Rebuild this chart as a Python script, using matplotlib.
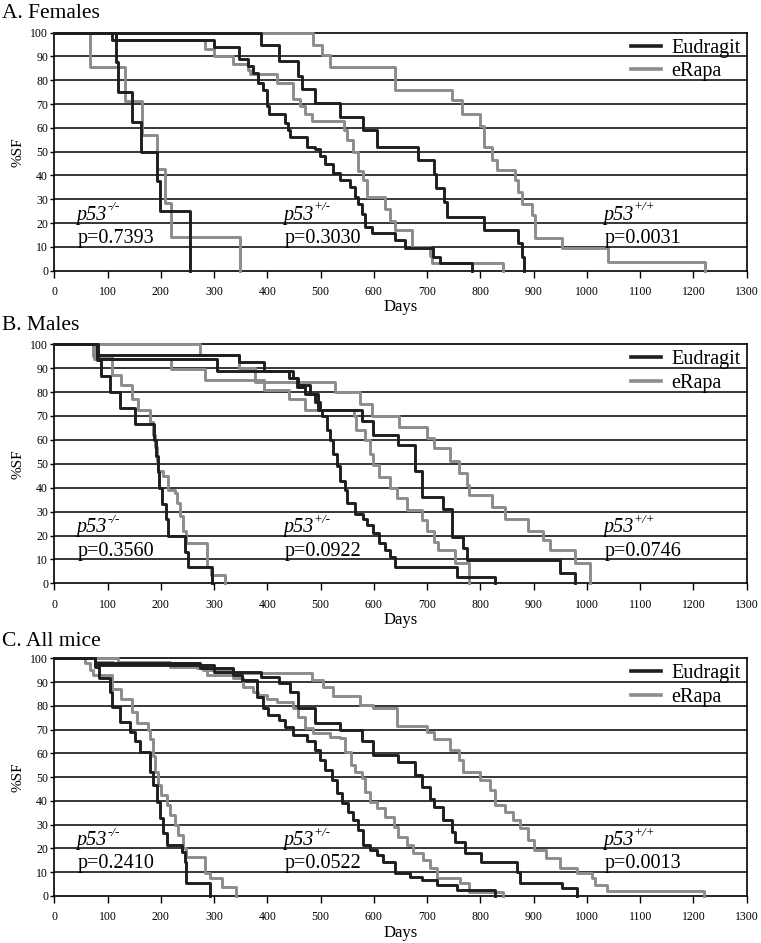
import matplotlib
matplotlib.use("Agg")
import matplotlib.pyplot as plt
from matplotlib.lines import Line2D

plt.rcParams["font.family"] = "Liberation Serif"

# survival curves as (day, %SF) step points
# --- A. Females
fem_ko_eud = [(0, 100), (115, 87.5), (119, 75), (145, 62.5), (163, 50), (192, 37.5),
              (198, 25), (255, 0)]
fem_ko_rap = [(0, 100), (67, 85.7), (133, 71.4), (164, 57.1), (192, 42.9), (208, 28.6),
              (220, 14.3), (349, 0)]
fem_het_eud = [(0, 100), (108, 97), (299, 94), (346, 89), (364, 86), (373, 83), (383, 79),
               (392, 76), (399, 69), (404, 66), (433, 62), (438, 59), (443, 56), (474, 52),
               (490, 51), (499, 48), (508, 45), (524, 41), (537, 38), (555, 35), (565, 31),
               (570, 28), (578, 24), (584, 18.5), (596, 15.8), (640, 12.9), (659, 9.5),
               (711, 5.9), (724, 3.2), (784, 0)]
fem_het_rap = [(0, 100), (115, 97), (283, 93), (299, 90), (336, 87), (364, 84.5),
               (368, 82.5), (418, 79), (449, 72), (461, 69), (471, 66), (483, 63),
               (543, 59), (549, 55), (561, 50), (571, 42), (580, 38), (587, 31), (621, 26),
               (631, 21), (640, 17), (671, 10), (705, 6), (710, 3.4), (843, 0)]
fem_wt_eud = [(0, 100), (389, 94.8), (421, 88), (458, 82), (465, 76.5), (490, 70.5),
              (537, 64.7), (580, 59), (605, 52), (683, 46.5), (712, 40.6), (716, 34.7),
              (731, 29), (737, 22.7), (806, 17), (871, 11.6), (878, 5.9), (881, 0)]
fem_wt_rap = [(0, 100), (486, 95), (502, 90.5), (518, 85.5), (640, 76), (746, 71.7),
              (765, 66), (800, 61), (806, 52), (821, 46.5), (831, 42.3), (865, 38),
              (871, 33), (878, 28), (897, 23.4), (903, 13.6), (953, 9.4), (1040, 3.8),
              (1222, 0)]

# --- B. Males
mal_ko_eud = [(0, 100), (80, 93.3), (88, 86.7), (105, 80), (124, 73.3), (152, 66.7),
              (188, 60), (191, 53.3), (194, 46.7), (197, 40), (203, 33.3), (210, 26.7),
              (213, 20), (245, 13.3), (251, 6.7), (296, 0)]
mal_ko_rap = [(0, 100), (73, 95), (108, 87), (126, 83), (145, 77), (158, 72.5),
              (180, 67.6), (186, 62), (189, 57), (192, 51), (195, 47), (205, 45), (214, 39),
              (227, 37.6), (230, 33.5), (236, 28), (242, 22), (248, 16.7), (286, 7),
              (295, 3.5), (320, 0)]
mal_het_eud = [(0, 100), (82, 93.7), (305, 89), (440, 86), (455, 82), (470, 79), (490, 76),
               (499, 72.5), (502, 70), (512, 64), (518, 60), (524, 54), (530, 49),
               (537, 43), (546, 39), (549, 33.5), (565, 29), (580, 27), (587, 24.4),
               (599, 21), (609, 16.7), (621, 14), (630, 11), (640, 7), (756, 2.8), (828, 0)]
mal_het_rap = [(0, 100), (75, 94), (220, 89.5), (283, 85), (393, 81), (440, 77),
               (471, 72.5), (562, 70), (566, 64), (583, 60), (593, 54), (599, 49.5),
               (609, 44.6), (630, 40), (643, 35.6), (662, 30.7), (690, 26.5), (699, 22),
               (712, 17.4), (720, 14), (752, 8.4), (778, 0)]
mal_wt_eud = [(0, 100), (80, 95.5), (346, 92.7), (393, 89), (449, 86), (458, 83),
              (480, 79), (496, 72.5), (577, 68), (599, 62), (646, 58), (677, 47), (690, 36),
              (730, 31), (746, 19.5), (768, 14.6), (775, 9.7), (950, 4.2), (978, 0)]
mal_wt_rap = [(0, 100), (273, 95.5), (346, 90), (377, 84.4), (527, 80), (574, 75),
              (596, 70), (648, 65.5), (699, 60.7), (712, 56.5), (743, 51), (759, 46),
              (774, 41), (778, 37), (821, 32), (846, 27), (890, 22), (918, 18), (931, 14),
              (978, 8.4), (1006, 0)]

# --- C. All mice
all_ko_eud = [(0, 100), (76, 96.5), (83, 91.6), (105, 86), (108, 79.7), (123, 73),
              (142, 69), (152, 65), (161, 60.7), (180, 52), (186, 46.7), (192, 39.7),
              (198, 32.7), (205, 26.4), (211, 21.5), (239, 18.7), (245, 14.4), (248, 5.3),
              (292, 0)]
all_ko_rap = [(0, 100), (58, 97.9), (67, 95), (73, 93), (108, 87), (126, 83), (145, 77.6),
              (155, 72.6), (176, 69.8), (180, 66), (186, 59), (189, 52), (195, 46.7),
              (201, 42.5), (211, 38.3), (217, 34), (226, 30), (233, 25.7), (242, 20),
              (248, 16.5), (283, 9.5), (292, 7.4), (314, 3.9), (342, 0)]
all_het_eud = [(0, 100), (76, 97.9), (274, 95.8), (336, 93), (352, 90.9), (380, 83.9),
               (392, 79), (402, 76), (421, 74), (433, 71), (449, 67.7), (474, 65),
               (490, 61.4), (499, 57.2), (508, 53), (521, 48.8), (530, 43.2), (540, 39),
               (552, 35.5), (561, 32), (571, 27.8), (580, 21.5), (593, 19.4), (605, 17.3),
               (618, 14.4), (640, 9.5), (668, 8.1), (690, 6.7), (718, 4.6), (756, 2.5),
               (828, 0)]
all_het_rap = [(0, 100), (76, 98.6), (111, 97.9), (267, 95.8), (286, 93), (336, 91.6),
               (355, 88), (374, 86), (383, 84.6), (399, 83), (418, 81.8), (449, 79),
               (458, 75.5), (471, 70.5), (486, 68.4), (518, 67), (537, 66.3), (546, 60.7),
               (558, 55), (565, 52.3), (577, 49.5), (584, 43.9), (593, 39.7), (605, 36.9),
               (621, 33.4), (637, 29), (646, 25), (662, 21.5), (674, 18), (693, 15),
               (706, 11.6), (718, 7.4), (762, 5.3), (778, 1.8), (843, 0)]
all_wt_eud = [(0, 100), (76, 97.2), (299, 94.4), (389, 92.3), (421, 89.5), (443, 86),
              (458, 79), (490, 72.6), (537, 69.8), (577, 65), (599, 59.3), (646, 56.5),
              (677, 50.9), (690, 46), (705, 41), (712, 37.6), (730, 32), (746, 27),
              (752, 22.9), (771, 18), (802, 14.4), (868, 10.2), (874, 5.3), (953, 3.2),
              (981, 0)]
all_wt_rap = [(0, 100), (120, 98.6), (217, 96.5), (280, 95), (336, 93.7), (483, 91),
              (505, 88), (524, 84), (574, 80.4), (599, 79), (643, 71.5), (699, 69),
              (712, 66), (743, 61.4), (759, 57.2), (768, 52), (799, 48.8), (818, 44.6),
              (828, 38.3), (846, 35.5), (862, 32), (874, 28.5), (890, 23.6), (900, 19.4),
              (924, 15.8), (950, 11.6), (981, 9.5), (1009, 7.4), (1015, 4.6), (1037, 2.2),
              (1219, 0)]

panel_titles = ["A. Females", "B. Males", "C. All mice"]
genotypes = ["-/-", "+/-", "+/+"]
pvals_fem = ["0.7393", "0.3030", "0.0031"]
pvals_mal = ["0.3560", "0.0922", "0.0746"]
pvals_all = ["0.2410", "0.0522", "0.0013"]
label_days = [42, 430, 1031]

BLACK = "#1e1e1e"
GRAY = "#8c8c8c"

panels = [
    (panel_titles[0], [fem_ko_eud, fem_het_eud, fem_wt_eud],
     [fem_ko_rap, fem_het_rap, fem_wt_rap], pvals_fem),
    (panel_titles[1], [mal_ko_eud, mal_het_eud, mal_wt_eud],
     [mal_ko_rap, mal_het_rap, mal_wt_rap], pvals_mal),
    (panel_titles[2], [all_ko_eud, all_het_eud, all_wt_eud],
     [all_ko_rap, all_het_rap, all_wt_rap], pvals_all),
]

fig = plt.figure(figsize=(7.61, 9.43), dpi=100)
W, H = 761, 943
tops = [32.7, 344.3, 658.3]
bots = [270.7, 583.3, 896.0]
title_y = [14, 326, 641]
left_px, right_px = 54.3, 746.7

for i, (title, eud, rap, pv) in enumerate(panels):
    ax = fig.add_axes([left_px / W, 1 - bots[i] / H, (right_px - left_px) / W,
                       (bots[i] - tops[i]) / H])
    ax.set_xlim(0, 1300)
    ax.set_ylim(0, 100)
    ax.set_xticks(range(0, 1301, 100))
    ax.set_yticks(range(0, 101, 10))
    for y in range(10, 100, 10):
        ax.axhline(y, color="black", lw=1.1, zorder=1)
    for c in rap:
        ax.step([p[0] for p in c], [p[1] for p in c], where="post", color=GRAY,
                lw=2.1, zorder=3, clip_on=False)
    for c in eud:
        ax.step([p[0] for p in c], [p[1] for p in c], where="post", color=BLACK,
                lw=2.1, zorder=4, clip_on=False)
    for s in ax.spines.values():
        s.set_linewidth(1.2)
    ax.tick_params(axis="both", labelsize=8.5, direction="out", width=1.0)
    ax.tick_params(axis="x", length=5, pad=6)
    ax.tick_params(axis="y", length=3, pad=1.5)
    ax.set_xlabel("Days", fontsize=12, labelpad=1)
    ax.set_ylabel("%SF", fontsize=11, labelpad=4)
    for g, d, p in zip(genotypes, label_days, pv):
        t = ax.text(d, 21.3, "p53", fontsize=14.5, style="italic",
                    ha="left", va="baseline", zorder=5)
        ax.annotate(g, xy=(1.0, 0.62), xycoords=t, fontsize=9.5, style="italic",
                    ha="left", va="bottom", zorder=5)
        ax.text(d + 2, 11.6, "p=" + p, fontsize=14.5, ha="left", va="baseline",
                zorder=5)
    handles = [Line2D([], [], color=BLACK, lw=2.6), Line2D([], [], color=GRAY, lw=2.6)]
    leg = ax.legend(handles, ["Eudragit", "eRapa"], loc="upper right", fontsize=14.5,
                    frameon=True, fancybox=False, framealpha=0, edgecolor="black",
                    borderaxespad=0, borderpad=0.3, labelspacing=0.2,
                    handlelength=1.5, handletextpad=0.5)
    leg.get_frame().set_linewidth(2.6)
    leg.set_zorder(6)
    fig.text(2 / W, 1 - title_y[i] / H, title, fontsize=15.5, ha="left", va="center")

fig.savefig("out.png", dpi=100)
